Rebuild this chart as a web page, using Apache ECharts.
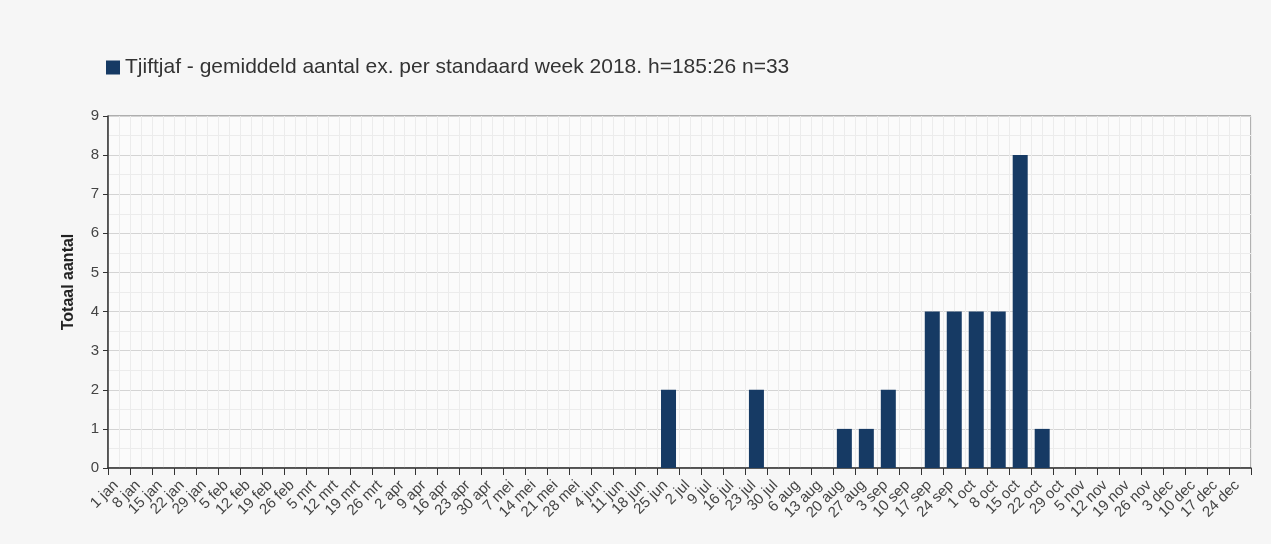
<!DOCTYPE html>
<html>
<head>
<meta charset="utf-8">
<script src="https://cdn.jsdelivr.net/npm/echarts@6/dist/echarts.min.js"></script>
<style>
  html, body { margin: 0; padding: 0; background: #f6f6f6; }
  #chart { width: 1271px; height: 544px; }
</style>
</head>
<body>
<div id="chart"></div>
<script>
// weken 2018
var weeks = ['1 jan', '8 jan', '15 jan', '22 jan', '29 jan', '5 feb', '12 feb', '19 feb', '26 feb',
  '5 mrt', '12 mrt', '19 mrt', '26 mrt', '2 apr', '9 apr', '16 apr', '23 apr', '30 apr',
  '7 mei', '14 mei', '21 mei', '28 mei', '4 jun', '11 jun', '18 jun', '25 jun',
  '2 jul', '9 jul', '16 jul', '23 jul', '30 jul', '6 aug', '13 aug', '20 aug', '27 aug',
  '3 sep', '10 sep', '17 sep', '24 sep', '1 oct', '8 oct', '15 oct', '22 oct', '29 oct',
  '5 nov', '12 nov', '19 nov', '26 nov', '3 dec', '10 dec', '17 dec', '24 dec'];
var counts = [0, 0, 0, 0, 0, 0, 0, 0, 0, 0, 0, 0, 0, 0, 0, 0, 0, 0, 0, 0, 0, 0, 0, 0, 0,
  2, 0, 0, 0, 2, 0, 0, 0, 1, 1, 2, 0, 4, 4, 4, 4, 8, 1,
  0, 0, 0, 0, 0, 0, 0, 0, 0];
var seriesName = 'Tjiftjaf - gemiddeld aantal ex. per standaard week 2018. h=185:26 n=33';
var yMax = 9;

var myChart = echarts.init(document.getElementById('chart'));
var font = 'Liberation Sans, Arial, sans-serif';

var option = {
  backgroundColor: '#f6f6f6',
  animation: false,
  textStyle: { fontFamily: font },
  legend: {
    left: 106,
    top: 57,
    padding: 0,
    itemWidth: 14,
    itemHeight: 14,
    itemGap: 6,
    icon: 'rect',
    textStyle: { fontSize: 21, color: '#333', fontFamily: font },
    data: [seriesName]
  },
  grid: {
    left: 108,
    right: 20,
    top: 116,
    bottom: 76,
    show: true,
    backgroundColor: '#fbfbfb',
    borderColor: '#666',
    borderWidth: 1
  },
  xAxis: [
    {
      type: 'category',
      data: weeks,
      axisLine: { show: true, lineStyle: { color: '#333', width: 1.5 } },
      axisTick: { show: true, length: 7, lineStyle: { color: '#333' } },
      axisLabel: {
        rotate: 45,
        interval: 0,
        fontSize: 15,
        color: '#444',
        margin: 12,
        width: 120,
        overflow: 'none',
        hideOverlap: false,
        formatter: function (v) { return v + ' '; }
      },
      splitLine: { show: true, interval: 0, lineStyle: { color: '#d4d4d4' } }
    },
    {
      // fijne rasterlijnen
      type: 'value',
      min: 0,
      max: weeks.length,
      interval: 0.5,
      show: true,
      axisLine: { show: false },
      axisTick: { show: false },
      axisLabel: { show: false },
      splitLine: { show: true, lineStyle: { color: '#ececec' } }
    }
  ],
  yAxis: {
    type: 'value',
    min: 0,
    max: yMax,
    interval: 1,
    name: 'Totaal aantal',
    nameLocation: 'middle',
    nameGap: 31,
    nameTextStyle: { fontSize: 16, fontWeight: 'bold', color: '#222', padding: [0, 0, 0, 20] },
    axisLine: { show: true, lineStyle: { color: '#333', width: 1.5 } },
    axisTick: { show: true, length: 5, lineStyle: { color: '#333' } },
    axisLabel: { fontSize: 15, color: '#444', margin: 9 },
    splitLine: { show: true, lineStyle: { color: '#d4d4d4' } },
    minorTick: { show: false, splitNumber: 2 },
    minorSplitLine: { show: true, lineStyle: { color: '#ececec' } }
  },
  series: [
    {
      name: seriesName,
      type: 'bar',
      xAxisIndex: 0,
      data: counts,
      barWidth: 15,
      itemStyle: { color: '#163a64', borderWidth: 0 }
    }
  ]
};
myChart.setOption(option);
</script>
</body>
</html>
